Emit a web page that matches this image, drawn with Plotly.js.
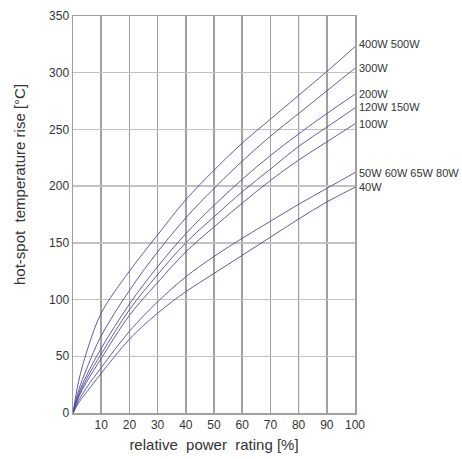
<!DOCTYPE html>
<html>
<head>
<meta charset="utf-8">
<script src="https://cdn.plot.ly/plotly-3.0.1.min.js"></script>
<style>
html,body{margin:0;padding:0;background:#fff;}
#chart{width:462px;height:459px;}
</style>
</head>
<body>
<div id="chart"></div>
<script>
// relative power rating [%]
var powerPct = [0, 2, 5, 10, 20, 30, 40, 50, 60, 70, 80, 90, 100];

// hot-spot temperature rise [°C] per resistor rating group
var seriesNames = ["400W 500W", "300W", "200W", "120W 150W", "100W", "50W 60W 65W 80W", "40W"];
var rise400_500 = [0, 28, 55, 88, 125, 157, 188, 214, 238, 259, 280, 301, 323];
var rise300     = [0, 20, 40, 68, 108, 142, 172, 198, 222, 244, 264, 284, 304];
var rise200     = [0, 17, 34, 57, 96, 129, 158, 183, 206, 227, 246, 264, 281];
var rise120_150 = [0, 15, 31, 52, 91, 122, 150, 173, 195, 215, 235, 252, 269];
var rise100     = [0, 14, 28, 48, 86, 115, 142, 164, 185, 205, 223, 239, 255];
var rise50_80   = [0, 11, 23, 40, 72, 98, 120, 138, 154, 169, 184, 198, 212];
var rise40      = [0, 9, 19, 35, 65, 88, 107, 123, 139, 155, 171, 186, 199];

var allSeries = [rise400_500, rise300, rise200, rise120_150, rise100, rise50_80, rise40];

// curve end-label vertical positions (°C) at right side
var labelY = [325, 304, 281, 270, 255, 212, 199];

var xTicks = [10, 20, 30, 40, 50, 60, 70, 80, 90, 100];
var yTicks = [0, 50, 100, 150, 200, 250, 300, 350];

var traces = allSeries.map(function (ys, i) {
  return {
    x: powerPct,
    y: ys,
    type: "scatter",
    mode: "lines",
    name: seriesNames[i],
    line: {color: "rgba(75,75,155,0.9)", width: 1, shape: "spline", smoothing: 1},
    hoverinfo: "skip"
  };
});

var annotations = seriesNames.map(function (n, i) {
  return {
    x: 100, y: labelY[i], xref: "x", yref: "y",
    text: n, showarrow: false, xanchor: "left", yanchor: "middle",
    xshift: 2,
    font: {family: "Liberation Sans, Arial, sans-serif", size: 11, color: "#333"}
  };
});

// y-axis title drawn as annotation (placed above plot centre like the reference)
annotations.push({
  x: 19, y: 185, xref: "paper", yref: "paper",
  text: "hot-spot\u00A0 temperature rise [°C]",
  showarrow: false, textangle: -90, xanchor: "center", yanchor: "middle",
  font: {family: "Liberation Sans, Arial, sans-serif", size: 15, color: "#333"}
});

var layout = {
  width: 462, height: 459,
  margin: {l: 73, r: 107, t: 16, b: 46},
  paper_bgcolor: "#fff", plot_bgcolor: "#fff",
  showlegend: false,
  font: {family: "Liberation Sans, Arial, sans-serif", color: "#333"},
  xaxis: {
    range: [0, 100], tickvals: xTicks, ticktext: xTicks.map(String),
    showgrid: true, gridcolor: "#a0a0a0", gridwidth: 1.5,
    zeroline: false, showline: true, mirror: true, linecolor: "#a0a0a0", linewidth: 1.5,
    ticks: "", tickfont: {size: 12, color: "#333"},
    title: {text: "relative\u00A0 power\u00A0 rating [%]", font: {size: 15, color: "#333"}, standoff: 8}
  },
  yaxis: {
    range: [0, 350], tickvals: yTicks, ticktext: yTicks.map(String),
    showgrid: true, gridcolor: "#c2c2c2", gridwidth: 1.5,
    zeroline: false, showline: true, mirror: true, linecolor: "#a0a0a0", linewidth: 1.5,
    ticks: "", tickfont: {size: 12, color: "#333"}
  },
  shapes: [
    {type: "line", xref: "x", yref: "y", x0: 80, x1: 80, y0: 0, y1: 350, line: {color: "#333", width: 1}, layer: "below"},
    {type: "line", xref: "x", yref: "y", x0: 0, x1: 100, y0: 200, y1: 200, line: {color: "#222", width: 1}, layer: "below"}
  ],
  annotations: annotations
};

// convert y-title annotation from pixel intent to paper coords
(function () {
  var a = annotations[annotations.length - 1];
  var plotW = 462 - 73 - 107, plotH = 459 - 16 - 46;
  a.x = (19 - 73) / plotW;
  a.y = (459 - 46 - 185) / plotH;
})();

Plotly.newPlot("chart", traces, layout, {displayModeBar: false, staticPlot: true});
</script>
</body>
</html>
